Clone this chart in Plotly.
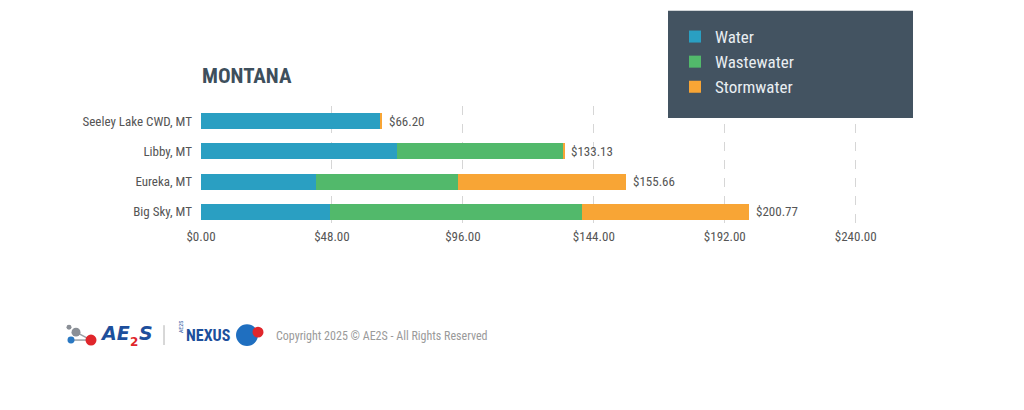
import plotly.graph_objects as go

# data
cities = ["Seeley Lake CWD, MT", "Libby, MT", "Eureka, MT", "Big Sky, MT"]
water = [65.80, 71.80, 42.00, 47.20]
wastewater = [0.00, 60.93, 52.20, 92.30]
stormwater = [0.40, 0.40, 61.46, 61.27]
x_ticks = [0, 48, 96, 144, 192, 240]

totals = [round(a + b + c, 2) for a, b, c in zip(water, wastewater, stormwater)]

FONT = "Liberation Sans Narrow, Roboto Condensed, Open Sans, sans-serif"
LOGO_FONT = "DejaVu Sans, sans-serif"
GREY = "#555555"

# page has an 8px body margin, figure coords = screen coords - 8
OFF = 8
W, H = 1024 - 2 * OFF, 410 - 2 * OFF
L, R, T, B = 201 - OFF, 883 - OFF, 105 - OFF, 227 - OFF


def px(x):
    return (x - OFF - L) / (R - L)


def py(y):
    return (B - (y - OFF)) / (B - T)


fig = go.Figure()

series = [("Water", water, "#2a9fc2"),
          ("Wastewater", wastewater, "#52b96b"),
          ("Stormwater", stormwater, "#f8a535")]
for name, vals, col in series:
    fig.add_trace(go.Bar(
        y=cities, x=vals, name=name, orientation="h",
        marker=dict(color=col, line=dict(color="#f4f4f4", width=0)),
        hoverinfo="x+name",
    ))

for city, tot in zip(cities, totals):
    fig.add_annotation(x=tot, y=city, xref="x", yref="y", text="${:,.2f}".format(tot),
                       xanchor="left", xshift=5, showarrow=False,
                       font=dict(family=FONT, size=13, color=GREY))

# legend panel
fig.add_shape(type="rect", xref="paper", yref="paper",
              x0=px(668), x1=px(913), y0=py(117), y1=py(9),
              fillcolor="#435361", line=dict(width=0), layer="above")

# footer logo (approximation)
fig.add_shape(type="line", xref="paper", yref="paper",
              x0=px(71), x1=px(91), y0=py(341), y1=py(341),
              line=dict(color="#9aa0a6", width=1.5))
fig.add_shape(type="line", xref="paper", yref="paper",
              x0=px(76), x1=px(91), y0=py(333), y1=py(341),
              line=dict(color="#9aa0a6", width=1.5))
circles = [(76, 333, 4.5, "#8a8f96"), (69, 328, 2.5, "#8a8f96"), (71, 341, 3.5, "#2a78c2"),
           (91, 341, 5.5, "#e0262b"), (247, 336, 11, "#1f6fc0"), (258, 333, 5.5, "#e0262b")]
for cx, cy, r, col in circles:
    fig.add_shape(type="circle", xref="paper", yref="paper",
                  x0=px(cx - r), x1=px(cx + r), y0=py(cy + r), y1=py(cy - r),
                  fillcolor=col, line=dict(width=0), layer="above")
fig.add_shape(type="line", xref="paper", yref="paper",
              x0=px(164), x1=px(164), y0=py(346), y1=py(326),
              line=dict(color="#b0b0b0", width=1))

annos = [
    dict(text="<b><i>AE</i></b>", x=px(99), y=py(334), size=19, color="#1d4f9c", f=LOGO_FONT),
    dict(text="<b>2</b>", x=px(129), y=py(343), size=12, color="#e0262b", f=LOGO_FONT),
    dict(text="<b><i>S</i></b>", x=px(138), y=py(334), size=19, color="#1d4f9c", f=LOGO_FONT),
    dict(text="<b>NEXUS</b>", x=px(185), y=py(336), size=16, color="#1d4f9c", f=FONT),
    dict(text="Copyright 2025 © AE2S - All Rights Reserved", x=px(275), y=py(337),
         size=12, color="#9a9a9a", f=FONT),
    dict(text="<b>MONTANA</b>", x=px(201), y=py(75), size=21, color="#3e4f5c", f=FONT),
]
for a in annos:
    fig.add_annotation(text=a["text"], x=a["x"], y=a["y"], xref="paper", yref="paper",
                       xanchor="left", yanchor="middle", showarrow=False, borderpad=0,
                       font=dict(family=a["f"], size=a["size"], color=a["color"]))
fig.add_annotation(text="AE2S", x=px(175), y=py(336), xref="paper", yref="paper",
                   textangle=-90, showarrow=False,
                   font=dict(family=FONT, size=6, color="#1d4f9c"))

fig.update_layout(
    width=W, height=H,
    margin=dict(l=L, r=W - R, t=T, b=H - B),
    barmode="stack", bargap=0.47,
    paper_bgcolor="white", plot_bgcolor="white",
    font=dict(family=FONT, size=13, color=GREY),
    legend=dict(x=px(675), y=py(19), xanchor="left", yanchor="top",
                bgcolor="rgba(0,0,0,0)", font=dict(size=17, color="#e9eef2"),
                tracegroupgap=0, traceorder="normal", itemclick=False),
    xaxis=dict(range=[0, 250], tickvals=x_ticks,
               ticktext=["${:,.2f}".format(v) for v in x_ticks],
               showgrid=True, gridcolor="#d6d6d6", griddash="dash", gridwidth=1,
               zeroline=False, showline=False, ticks="", fixedrange=True,
               tickfont=dict(size=13, color=GREY)),
    yaxis=dict(autorange="reversed", showgrid=False, zeroline=False, ticks="",
               ticklabelstandoff=8, fixedrange=True, tickfont=dict(size=13, color=GREY)),
)

fig.write_html("out.html")
